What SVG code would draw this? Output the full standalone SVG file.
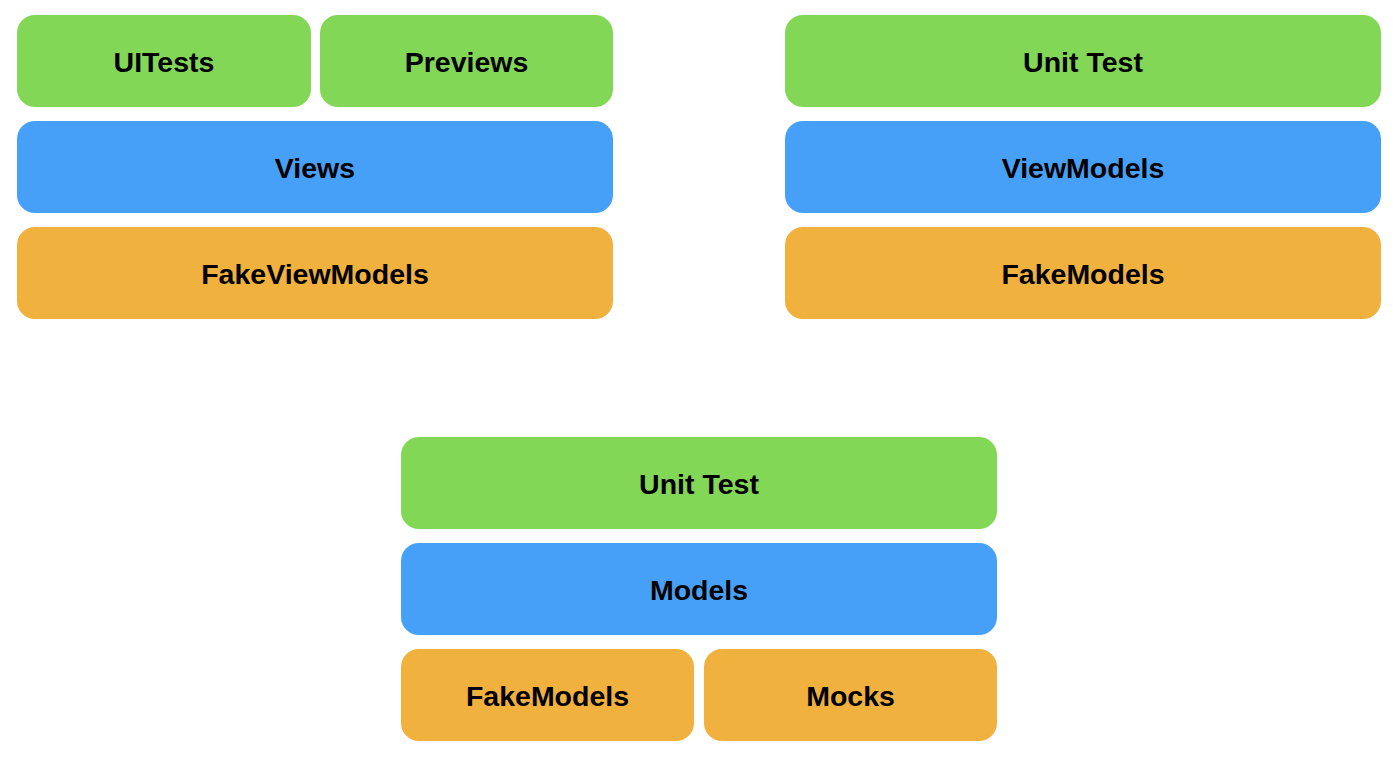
<svg xmlns="http://www.w3.org/2000/svg" width="1400" height="759" viewBox="0 0 1400 759">
<style>
.g{fill:#83D756}
.b{fill:#47A0F8}
.o{fill:#F1B13E}
text{font-family:"Liberation Sans",Arial,sans-serif;font-weight:bold;font-size:28.5px;fill:#000;text-anchor:middle}
</style>
<rect width="1400" height="759" fill="#fff"/>
<g id="uitests"><rect class="g" x="17" y="15" width="294" height="92" rx="18"/><text x="164" y="72">UITests</text></g>
<g id="previews"><rect class="g" x="320" y="15" width="293" height="92" rx="18"/><text x="466.5" y="72">Previews</text></g>
<g id="views"><rect class="b" x="17" y="121" width="596" height="92" rx="18"/><text x="315" y="178">Views</text></g>
<g id="fakeviewmodels"><rect class="o" x="17" y="227" width="596" height="92" rx="18"/><text x="315" y="284">FakeViewModels</text></g>
<g id="unittest1"><rect class="g" x="785" y="15" width="596" height="92" rx="18"/><text x="1083" y="72">Unit Test</text></g>
<g id="viewmodels"><rect class="b" x="785" y="121" width="596" height="92" rx="18"/><text x="1083" y="178">ViewModels</text></g>
<g id="fakemodels1"><rect class="o" x="785" y="227" width="596" height="92" rx="18"/><text x="1083" y="284">FakeModels</text></g>
<g id="unittest2"><rect class="g" x="401" y="437" width="596" height="92" rx="18"/><text x="699" y="494">Unit Test</text></g>
<g id="models"><rect class="b" x="401" y="543" width="596" height="92" rx="18"/><text x="699" y="600">Models</text></g>
<g id="fakemodels2"><rect class="o" x="401" y="649" width="293" height="92" rx="18"/><text x="547.5" y="706">FakeModels</text></g>
<g id="mocks"><rect class="o" x="704" y="649" width="293" height="92" rx="18"/><text x="850.5" y="706">Mocks</text></g>
<g id="connectors"/>
</svg>
